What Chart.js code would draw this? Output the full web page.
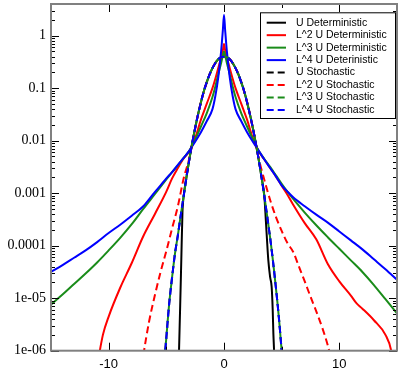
<!DOCTYPE html>
<html>
<head>
<meta charset="utf-8">
<script src="https://cdn.jsdelivr.net/npm/chart.js@4.4.1/dist/chart.umd.min.js"></script>
<style>
html,body{margin:0;padding:0;background:#fff;}
#c{display:block;}
</style>
</head>
<body>
<canvas id="c" width="407" height="376"></canvas>
<script>
// ---------------- data ----------------
const seriesLabels = ["U Deterministic","L^2 U Deterministic","L^3 U Deterministic","L^4 U Deterinistic",
                      "U Stochastic","L^2 U Stochastic","L^3 U Stochastic","L^4 U Stochastic"];
const seriesColors = ["#000000","#ff0000","#1a8c1a","#0000ff","#000000","#ff0000","#1a8c1a","#0000ff"];

const uDetX = [-4.0,-3.9,-3.8,-3.7,-3.6,-3.5,-3.25,-3,-2.75,-2.5,-2.25,-2,-1.75,-1.5,-1.25,-1,-0.75,-0.5,-0.25,0,
               0.25,0.5,0.75,1,1.25,1.5,1.75,2,2.25,2.5,2.75,3,3.25,3.5,3.65,3.84,4.0,4.13,4.22,4.28,4.34,4.4];
const uDetY = [1e-7,1e-6,7.08e-6,5.62e-5,4.47e-4,8.71e-4,2.04e-3,4.47e-3,9.12e-3,1.74e-2,3.16e-2,5.37e-2,8.71e-2,0.129,0.182,0.240,0.302,0.355,0.389,0.398,
               0.389,0.355,0.302,0.240,0.182,0.129,8.71e-2,5.37e-2,3.16e-2,1.74e-2,9.12e-3,4.47e-3,2.04e-3,8.71e-4,2.51e-4,5.37e-5,2.51e-5,1.66e-5,6.31e-6,2.14e-6,1e-6,3.16e-7];

const l2DetX = [-11.5,-11,-10.5,-10,-9,-8,-7,-6,-5,-4.5,-4,-3.5,-3,-2.5,-2,-1.5,-1,-0.75,-0.5,-0.25,-0.1,0,
                0.1,0.25,0.5,0.75,1,1.5,2,2.5,3,3.5,4,4.5,5,5.5,6,7,8,9,10,11,11.5,12,13,14,14.5,15];
const l2DetY = [1e-7,5.01e-7,2.0e-6,4.47e-6,1.58e-5,4.68e-5,1.51e-4,3.98e-4,1.07e-3,1.91e-3,3.02e-3,4.57e-3,6.31e-3,1.12e-2,2.51e-2,5.01e-2,0.1,0.151,0.240,0.380,0.525,0.692,
                0.525,0.380,0.240,0.151,0.1,5.01e-2,2.51e-2,1.12e-2,6.31e-3,4.37e-3,3.02e-3,2.09e-3,1.38e-3,9.33e-4,6.03e-4,2.69e-4,1.32e-4,4.47e-5,2.09e-5,1.12e-5,7.94e-6,6.31e-6,3.80e-6,2.0e-6,1e-6,1.58e-7];

const l3DetX = [-15,-14,-13,-12,-11,-10,-9,-8,-7,-6,-5,-4.5,-4,-3.5,-3,-2.5,-2,-1.5,-1,-0.75,-0.5,-0.25,-0.1,0,
                0.1,0.25,0.5,0.75,1,1.5,2,2.5,3,3.5,4,4.5,5,5.5,6,7,8,9,10,11,12,13,14,15];
const l3DetY = [7.59e-6,1.17e-5,1.86e-5,2.95e-5,4.79e-5,8.13e-5,1.41e-4,2.57e-4,5.01e-4,9.55e-4,1.82e-3,2.51e-3,3.39e-3,4.68e-3,6.46e-3,1.05e-2,1.86e-2,3.31e-2,6.76e-2,0.107,0.182,0.302,0.417,0.501,
                0.417,0.302,0.182,0.107,6.76e-2,3.31e-2,1.86e-2,1.07e-2,6.46e-3,4.47e-3,3.16e-3,2.19e-3,1.51e-3,1.07e-3,7.76e-4,4.27e-4,2.45e-4,1.45e-4,8.71e-5,5.25e-5,3.16e-5,1.78e-5,9.55e-6,5.13e-6];

const l4DetX = [-15,-14,-13,-12,-11,-10,-9,-8,-7,-6,-5.5,-5,-4.5,-4,-3.5,-3,-2.5,-2,-1.5,-1,-0.75,-0.5,-0.25,-0.1,0,
                0.1,0.25,0.5,0.75,1,1.5,2,2.5,3,3.5,4,4.5,5,5.5,6,7,8,9,10,11,12,13,14,15];
const l4DetY = [3.16e-5,4.27e-5,5.89e-5,8.13e-5,1.17e-4,1.74e-4,2.51e-4,3.72e-4,5.62e-4,1.05e-3,1.41e-3,1.91e-3,2.51e-3,3.47e-3,4.68e-3,6.46e-3,9.55e-3,1.45e-2,2.34e-2,3.98e-2,7.08e-2,0.158,0.501,1.26,2.48,
                1.26,0.501,0.158,7.08e-2,3.98e-2,2.34e-2,1.45e-2,9.55e-3,6.46e-3,4.37e-3,3.02e-3,2.09e-3,1.41e-3,1.07e-3,8.32e-4,5.62e-4,3.89e-4,2.75e-4,1.86e-4,1.26e-4,8.51e-5,5.50e-5,3.55e-5,2.24e-5];

const stoX = [-5.25,-5,-4.75,-4.5,-4.25,-4,-3.75,-3.5,-3.25,-3,-2.75,-2.5,-2.25,-2,-1.75,-1.5,-1.25,-1,-0.75,-0.5,-0.25,0,
              0.25,0.5,0.75,1,1.25,1.5,1.75,2,2.25,2.5,2.75,3,3.25,3.5,3.75,4,4.25,4.5,4.75,5,5.25];
const uStoY  = [3.98e-7,1.78e-6,7.94e-6,2.51e-5,7.08e-5,1.58e-4,3.80e-4,8.71e-4,2.04e-3,4.47e-3,9.12e-3,1.74e-2,3.16e-2,5.37e-2,8.71e-2,0.129,0.182,0.240,0.302,0.355,0.389,0.398,
                0.389,0.355,0.302,0.240,0.182,0.129,8.71e-2,5.37e-2,3.16e-2,1.74e-2,9.12e-3,4.47e-3,2.04e-3,8.71e-4,3.55e-4,1.41e-4,5.01e-5,1.58e-5,4.47e-6,1.0e-6,2.51e-7];
const l3StoY = [3.98e-7,1.78e-6,7.94e-6,2.51e-5,7.08e-5,1.58e-4,3.80e-4,8.71e-4,2.04e-3,4.47e-3,9.12e-3,1.74e-2,3.16e-2,5.37e-2,8.71e-2,0.129,0.182,0.240,0.302,0.355,0.389,0.398,
                0.389,0.355,0.302,0.240,0.182,0.129,8.71e-2,5.37e-2,3.16e-2,1.74e-2,9.12e-3,4.47e-3,2.04e-3,8.71e-4,3.55e-4,1.41e-4,5.01e-5,1.58e-5,4.47e-6,1.0e-6,2.51e-7];
const l4StoY = [3.98e-7,1.78e-6,7.94e-6,2.51e-5,7.08e-5,1.58e-4,3.80e-4,8.71e-4,2.04e-3,4.47e-3,9.12e-3,1.74e-2,3.16e-2,5.37e-2,8.71e-2,0.129,0.182,0.240,0.302,0.355,0.389,0.398,
                0.389,0.355,0.302,0.240,0.182,0.129,8.71e-2,5.37e-2,3.16e-2,1.74e-2,9.12e-3,4.47e-3,2.04e-3,8.71e-4,3.55e-4,1.41e-4,5.01e-5,1.58e-5,4.47e-6,1.0e-6,2.51e-7];

const l2StoX = [-7.25,-7,-6.5,-6,-5.5,-5,-4.5,-4,-3.5,-3,-2.5,-2,-1.5,-1,-0.5,0,
                0.5,1,1.5,2,2.5,3,3.5,4,4.5,5,5.5,6,6.5,7,7.5,8,8.5,9,9.5];
const l2StoY = [3.16e-7,7.94e-7,3.55e-6,1.12e-5,3.16e-5,7.94e-5,2.14e-4,5.62e-4,1.91e-3,4.68e-3,1.74e-2,5.37e-2,0.129,0.240,0.355,0.398,
                0.355,0.240,0.129,5.37e-2,1.74e-2,4.68e-3,1.78e-3,7.41e-4,3.55e-4,1.91e-4,1.12e-4,7.59e-5,3.98e-5,2.09e-5,1.07e-5,5.62e-6,2.82e-6,1.26e-6,4.47e-7];

const xTickValues = [-10, 0, 10];
const xTickLabels = ["-10", "0", "10"];
const yTickValues = [1e-6, 1e-5, 1e-4, 1e-3, 1e-2, 0.1, 1];
const yTickLabels = ["1e-06", "1e-05", "0.0001", "0.001", "0.01", "0.1", "1"];
const xMinorTicks = [-5, 5];

// ---------------- build datasets ----------------
function pts(xs, ys) { return xs.map((x, i) => ({ x: x, y: ys[i] })); }
const seriesData = [pts(uDetX,uDetY), pts(l2DetX,l2DetY), pts(l3DetX,l3DetY), pts(l4DetX,l4DetY),
                    pts(stoX,uStoY), pts(l2StoX,l2StoY), pts(stoX,l3StoY), pts(stoX,l4StoY)];
const dashes = [[],[],[],[],[7,4],[7,4],[7,4],[7,4]];
const dashOffsets = [0,0,0,0,0,0,5.5,0];

const datasets = seriesData.map((d, i) => ({
  label: seriesLabels[i],
  data: d,
  borderColor: seriesColors[i],
  backgroundColor: seriesColors[i],
  borderWidth: 2,
  borderDash: dashes[i],
  borderDashOffset: dashOffsets[i],
  pointRadius: 0,
  fill: false,
  cubicInterpolationMode: 'monotone',
  clip: 0,
  order: 8 - i
}));

// ---------------- plugins ----------------
const frameTicks = {
  id: 'frameTicks',
  afterDatasetsDraw(chart) {
    const ctx = chart.ctx, a = chart.chartArea, xs = chart.scales.x, ys = chart.scales.y;
    const MAJ = 8, MIN = 4;
    ctx.save();
    ctx.strokeStyle = '#000';
    ctx.lineWidth = 1;
    ctx.beginPath();
    for (let d = -6; d <= 0; d++) {
      for (let m = 1; m <= 9; m++) {
        const v = m * Math.pow(10, d);
        if (v < ys.min || v > ys.max) continue;
        const py = Math.round(ys.getPixelForValue(v)) + 0.5;
        const len = m === 1 ? MAJ : MIN;
        ctx.moveTo(a.left, py); ctx.lineTo(a.left + len, py);
        ctx.moveTo(a.right, py); ctx.lineTo(a.right - len, py);
      }
    }
    xTickValues.forEach(v => {
      const px = Math.round(xs.getPixelForValue(v)) + 0.5;
      ctx.moveTo(px, a.top); ctx.lineTo(px, a.top + MAJ);
      ctx.moveTo(px, a.bottom); ctx.lineTo(px, a.bottom - MAJ);
    });
    xMinorTicks.forEach(v => {
      const px = Math.round(xs.getPixelForValue(v)) + 0.5;
      ctx.moveTo(px, a.top); ctx.lineTo(px, a.top + MIN);
      ctx.moveTo(px, a.bottom); ctx.lineTo(px, a.bottom - MIN);
    });
    ctx.stroke();
    ctx.strokeStyle = '#808080';
    ctx.lineWidth = 2;
    ctx.strokeRect(a.left, a.top, a.right - a.left, a.bottom - a.top);
    ctx.restore();
  }
};

const legendBox = {
  id: 'legendBox',
  afterDraw(chart) {
    const ctx = chart.ctx;
    const L = 260, T = 12.3, W = 136, H = 106.7;
    ctx.save();
    ctx.fillStyle = '#fff';
    ctx.fillRect(L, T, W, H);
    ctx.strokeStyle = '#000';
    ctx.lineWidth = 1;
    ctx.strokeRect(L + 0.5, T + 0.5, W - 1, H - 1);
    ctx.font = '10.5px "Liberation Sans", Arial, sans-serif';
    ctx.textBaseline = 'middle';
    chart.data.datasets.forEach((ds, i) => {
      const yy = T + 10.4 + i * 12.47;
      ctx.strokeStyle = ds.borderColor;
      ctx.lineWidth = 2;
      ctx.setLineDash(ds.borderDash || []);
      ctx.beginPath();
      ctx.moveTo(266.7, yy); ctx.lineTo(286, yy);
      ctx.stroke();
      ctx.setLineDash([]);
      ctx.fillStyle = '#000';
      ctx.fillText(ds.label, 296, yy);
    });
    ctx.restore();
  }
};

// ---------------- chart ----------------
new Chart(document.getElementById('c'), {
  type: 'line',
  data: { datasets: datasets },
  options: {
    responsive: false,
    animation: false,
    devicePixelRatio: 1,
    layout: { padding: { left: 0, right: 10, top: 4, bottom: 0 } },
    plugins: { legend: { display: false }, tooltip: { enabled: false } },
    scales: {
      x: {
        type: 'linear',
        min: -15, max: 15,
        grid: { display: false, drawTicks: false },
        border: { display: false },
        afterBuildTicks: s => { s.ticks = xTickValues.map(v => ({ value: v })); },
        afterFit: s => { s.height = 25.3; s.paddingLeft = 0; s.paddingRight = 0; },
        ticks: {
          autoSkip: false, maxRotation: 0, padding: 6, color: '#000',
          font: { family: '"Liberation Sans", Arial, sans-serif', size: 13 },
          callback: (v, i) => xTickLabels[i]
        }
      },
      y: {
        type: 'logarithmic',
        min: 1e-6, max: 4,
        grid: { display: false, drawTicks: false },
        border: { display: false },
        afterBuildTicks: s => { s.ticks = yTickValues.map(v => ({ value: v })); },
        afterFit: s => { s.width = 51; s.paddingTop = 0; s.paddingBottom = 0; },
        ticks: {
          autoSkip: false, padding: 5, color: '#000',
          font: { family: '"Liberation Serif", "Times New Roman", serif', size: 14 },
          callback: (v, i) => yTickLabels[i]
        }
      }
    }
  },
  plugins: [frameTicks, legendBox]
});
</script>
</body>
</html>
